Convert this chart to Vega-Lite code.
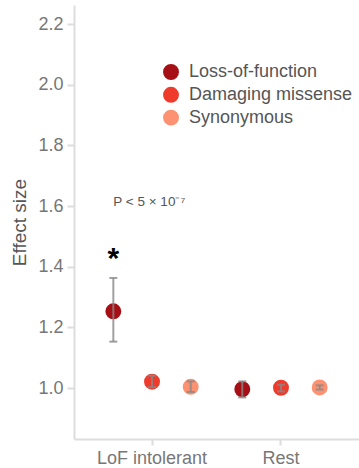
{
  "$schema": "https://vega.github.io/schema/vega-lite/v6.json",
  "width": 285,
  "height": 434,
  "autosize": "none",
  "padding": {"left": 74, "top": 5, "right": 0, "bottom": 29},
  "config": {
    "view": {"stroke": null},
    "font": "Liberation Sans"
  },
  "datasets": {
    "est": [
      {"group": "LoF intolerant", "type": "Loss-of-function", "est": 1.253, "lo": 1.153, "hi": 1.363},
      {"group": "LoF intolerant", "type": "Damaging missense", "est": 1.021, "lo": 1.003, "hi": 1.041},
      {"group": "LoF intolerant", "type": "Synonymous", "est": 1.004, "lo": 0.987, "hi": 1.022},
      {"group": "Rest", "type": "Loss-of-function", "est": 0.996, "lo": 0.969, "hi": 1.022},
      {"group": "Rest", "type": "Damaging missense", "est": 1.001, "lo": 0.989, "hi": 1.011},
      {"group": "Rest", "type": "Synonymous", "est": 1.002, "lo": 0.995, "hi": 1.009}
    ],
    "notes": [
      {"group": "LoF intolerant", "type": "Loss-of-function", "y": 1.60, "label": "P < 5 × 10⁻⁷", "kind": "p"},
      {"group": "LoF intolerant", "type": "Loss-of-function", "y": 1.43, "label": "*", "kind": "star"}
    ]
  },
  "encoding": {
    "x": {
      "field": "group",
      "type": "nominal",
      "sort": ["LoF intolerant", "Rest"],
      "scale": {"paddingInner": 0.1, "paddingOuter": 0.155},
      "axis": {
        "title": null,
        "labelAngle": 0,
        "labelFontSize": 18,
        "labelColor": "#777777",
        "labelPadding": 4,
        "domainColor": "#dddddd",
        "domainWidth": 2,
        "tickColor": "#dddddd",
        "tickWidth": 2,
        "tickSize": 6
      }
    },
    "xOffset": {
      "field": "type",
      "type": "nominal",
      "sort": ["Loss-of-function", "Damaging missense", "Synonymous"],
      "scale": {"paddingInner": 0, "paddingOuter": 0}
    }
  },
  "layer": [
    {
      "data": {"name": "est"},
      "mark": {"type": "circle", "size": 254, "opacity": 1},
      "encoding": {
        "y": {
          "field": "est",
          "type": "quantitative",
          "scale": {"domain": [0.832, 2.263], "nice": false, "zero": false},
          "axis": {
            "title": "Effect size",
            "titleFontSize": 19,
            "titleFontWeight": "normal",
            "titleColor": "#555555",
            "titlePadding": 8,
            "values": [1.0, 1.2, 1.4, 1.6, 1.8, 2.0, 2.2],
            "format": ".1f",
            "grid": false,
            "labelFontSize": 18,
            "labelColor": "#777777",
            "labelPadding": 4,
            "domainColor": "#dddddd",
            "domainWidth": 2,
            "tickColor": "#dddddd",
            "tickWidth": 2,
            "tickSize": 7
          }
        },
        "color": {
          "field": "type",
          "type": "nominal",
          "sort": ["Loss-of-function", "Damaging missense", "Synonymous"],
          "scale": {
            "domain": ["Loss-of-function", "Damaging missense", "Synonymous"],
            "range": ["#a50f15", "#ef3b2c", "#fc9272"]
          },
          "legend": {
            "title": null,
            "orient": "none",
            "legendX": 88,
            "legendY": 58,
            "symbolType": "circle",
            "symbolSize": 254,
            "symbolOpacity": 1,
            "labelFontSize": 18,
            "labelLimit": 400,
            "labelColor": "#555555",
            "labelOffset": 9,
            "rowPadding": 4.8,
            "padding": 0
          }
        }
      }
    },
    {
      "mark": {"type": "rule", "stroke": "#d3d3d3", "strokeWidth": 2, "strokeDash": [8, 6]},
      "encoding": {"y": {"datum": 1}}
    },
    {
      "data": {"name": "est"},
      "mark": {"type": "rule", "stroke": "#888888", "strokeWidth": 2, "opacity": 0.8},
      "encoding": {
        "y": {"field": "lo", "type": "quantitative"},
        "y2": {"field": "hi"}
      }
    },
    {
      "data": {"name": "est"},
      "mark": {"type": "tick", "orient": "horizontal", "color": "#888888", "size": 8, "thickness": 2, "opacity": 0.8},
      "encoding": {"y": {"field": "lo", "type": "quantitative"}}
    },
    {
      "data": {"name": "est"},
      "mark": {"type": "tick", "orient": "horizontal", "color": "#888888", "size": 8, "thickness": 2, "opacity": 0.8},
      "encoding": {"y": {"field": "hi", "type": "quantitative"}}
    },
    {
      "data": {"name": "notes"},
      "transform": [{"filter": "datum.kind == 'p'"}],
      "mark": {"type": "text", "align": "left", "baseline": "alphabetic", "fontSize": 13.5, "color": "#555555"},
      "encoding": {
        "y": {"field": "y", "type": "quantitative"},
        "text": {"field": "label"}
      }
    },
    {
      "data": {"name": "notes"},
      "transform": [{"filter": "datum.kind == 'star'"}],
      "mark": {"type": "text", "align": "center", "baseline": "middle", "fontSize": 30, "fontWeight": "bold", "color": "#000000", "dy": 1},
      "encoding": {
        "y": {"field": "y", "type": "quantitative"},
        "text": {"field": "label"}
      }
    }
  ]
}
